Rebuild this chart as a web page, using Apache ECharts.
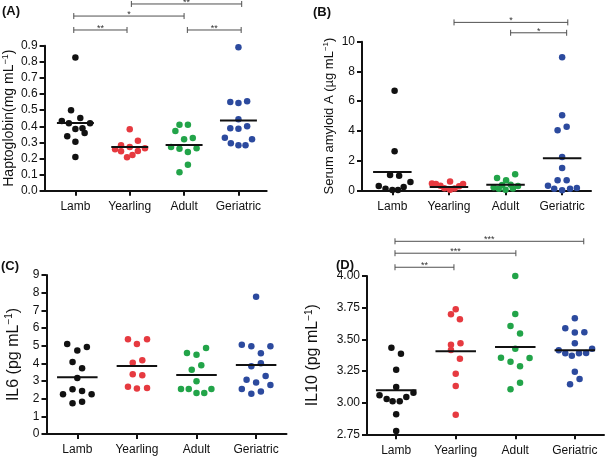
<!DOCTYPE html>
<html>
<head>
<meta charset="utf-8">
<script src="https://cdn.jsdelivr.net/npm/echarts@6/dist/echarts.min.js"></script>
<style>
  html, body { margin: 0; padding: 0; background: #fff; }
  #chart { width: 606px; height: 458px; }
</style>
</head>
<body>
<div id="chart"></div>
<script>
const categories = ['Lamb', 'Yearling', 'Adult', 'Geriatric'];

// each point: [jitter offset from group centre, value]
const hapLamb = [[0, 0.826], [-0.08, 0.499], [-0.25, 0.433], [0.09, 0.451], [-0.12, 0.418], [0.27, 0.418], [0, 0.383], [0.13, 0.387], [0.17, 0.358], [-0.15, 0.338], [0, 0.304], [0, 0.209]];
const hapYearling = [[0, 0.381], [0.15, 0.31], [-0.16, 0.282], [0, 0.271], [-0.27, 0.257], [-0.16, 0.245], [0.15, 0.246], [0.28, 0.263], [0.05, 0.222], [-0.05, 0.207]];
const hapAdult = [[-0.085, 0.41], [0.07, 0.41], [-0.16, 0.371], [0, 0.319], [0.16, 0.327], [-0.24, 0.271], [-0.085, 0.261], [0.23, 0.263], [0.07, 0.24], [0.07, 0.161], [-0.085, 0.114]];
const hapGeriatric = [[0, 0.89], [-0.15, 0.551], [0, 0.544], [0.16, 0.555], [0, 0.443], [-0.15, 0.387], [0, 0.385], [0.16, 0.4], [-0.25, 0.329], [0.25, 0.319], [-0.14, 0.294], [0, 0.282], [0.13, 0.282]];
const hapMeans = [0.42, 0.271, 0.284, 0.435];
// [from, to, level, stars]
const hapBrackets = [[1.03, 3.06, 1.159, '**'], [-0.03, 2, 1.084, '*'], [-0.03, 0.95, 0.9975, '**'], [2.06, 3.05, 0.9975, '**']];

const saaLamb = [[0.04, 6.7], [0.04, 2.62], [-0.04, 1.03], [0.12, 0.98], [0.32, 0.56], [-0.24, 0.29], [0.2, 0.22], [-0.12, 0.11], [0, 0.02], [0.1, 0.02]];
const saaYearling = [[0.02, 0.6], [-0.3, 0.46], [-0.23, 0.42], [-0.15, 0.3], [-0.08, 0.13], [0.02, 0.04], [0.1, 0.12], [0.18, 0.28], [0.25, 0.42]];
const saaAdult = [[-0.15, 0.83], [0.01, 0.67], [0.17, 1.08], [-0.06, 0.36], [0.09, 0.38], [0.22, 0.29], [-0.21, 0.2], [-0.12, 0.1], [0, 0.03], [0.13, 0.12]];
const saaGeriatric = [[0, 8.95], [0, 5.05], [0.08, 4.28], [-0.08, 4.04], [0, 2.24], [0, 1.5], [-0.08, 0.67], [0.08, 0.67], [-0.25, 0.31], [-0.14, 0.11], [0, 0.0], [0.14, 0.11], [0.26, 0.15]];
const saaMeans = [1.23, 0.22, 0.38, 2.15];
const saaBrackets = [[1.09, 3.1, 11.3, '*'], [2.09, 3.08, 10.6, '*']];

const il6Lamb = [[-0.17, 5.09], [0.16, 4.92], [0, 4.72], [-0.08, 4.07], [0.08, 3.72], [0, 3.17], [-0.08, 2.53], [0.08, 2.43], [-0.24, 2.25], [0.24, 2.25], [-0.08, 1.74], [0.08, 1.83]];
const il6Yearling = [[-0.15, 5.36], [0.17, 5.36], [0, 5.09], [-0.07, 4.04], [0.09, 4.17], [-0.07, 3.38], [0.09, 3.32], [-0.15, 2.68], [0, 2.57], [0.17, 2.6]];
const il6Adult = [[0.16, 4.87], [-0.16, 4.58], [0, 4.49], [0.08, 3.89], [-0.08, 3.64], [0, 2.98], [-0.26, 2.55], [-0.13, 2.55], [0.25, 2.55], [0, 2.32], [0.13, 2.32]];
const il6Geriatric = [[0, 7.77], [-0.24, 5.05], [-0.08, 4.96], [0.24, 4.96], [0.08, 4.57], [-0.08, 3.83], [0.08, 4.0], [0.16, 3.28], [-0.16, 3.07], [0, 2.92], [0.24, 2.77], [-0.24, 2.55], [-0.08, 2.28], [0.08, 2.41]];
const il6Means = [3.21, 3.85, 3.34, 3.9];

const il10Lamb = [[-0.08, 3.434], [0.08, 3.387], [0, 3.26], [0, 3.124], [0.29, 3.079], [-0.28, 3.058], [0.17, 3.045], [-0.16, 3.029], [-0.06, 3.011], [0.06, 3.011], [0, 2.908], [0, 2.776]];
const il10Yearling = [[0, 3.737], [-0.08, 3.698], [0.07, 3.658], [-0.08, 3.458], [0.08, 3.469], [-0.08, 3.416], [0.07, 3.347], [0, 3.229], [0, 3.131], [0, 2.905]];
const il10Adult = [[0, 4.0], [0, 3.7], [-0.08, 3.605], [0.08, 3.545], [0, 3.426], [-0.24, 3.355], [-0.08, 3.323], [0.24, 3.353], [0.08, 3.287], [0.08, 3.158], [-0.08, 3.105]];
const il10Geriatric = [[0, 3.666], [-0.16, 3.587], [0, 3.553], [0.16, 3.556], [0, 3.469], [-0.27, 3.413], [0.29, 3.426], [-0.16, 3.39], [-0.05, 3.371], [0.07, 3.39], [0.19, 3.392], [0, 3.244], [0.08, 3.187], [-0.08, 3.145]];
const il10Means = [3.098, 3.405, 3.44, 3.413];
const il10Brackets = [[-0.02, 0.97, 4.069, '**'], [-0.02, 2.01, 4.18, '***'], [-0.02, 3.15, 4.274, '***']];

const FONT = 'Arial, "Liberation Sans", Helvetica, sans-serif';
const INK = '#111111';
const groupColors = ['#111111', '#e63a40', '#22a449', '#2c4a9e'];

const panels = [
    {
        letter: '(A)', letterPos: [2, 5],
        grid: { left: 43.3, top: 45.7, width: 223.4, height: 145 },
        xRange: [-0.567, 3.52],
        yAxis: { min: 0, max: 0.9, interval: 0.1, digits: 1 },
        name: 'Haptoglobin(mg mL{sup|−1})', nameGap: 25, nameSize: 14,
        groups: [hapLamb, hapYearling, hapAdult, hapGeriatric],
        means: hapMeans, brackets: hapBrackets,
    },
    {
        letter: '(B)', letterPos: [313, 6],
        grid: { left: 362, top: 41.7, width: 229, height: 148.6 },
        xRange: [-0.536, 3.51],
        yAxis: { min: 0, max: 10, interval: 2, digits: 0 },
        name: 'Serum amyloid A (µg mL{sup|−1})', nameGap: 25, nameSize: 13,
        groups: [saaLamb, saaYearling, saaAdult, saaGeriatric],
        means: saaMeans, brackets: saaBrackets,
    },
    {
        letter: '(C)', letterPos: [1, 260],
        grid: { left: 46.5, top: 275, width: 240, height: 159 },
        xRange: [-0.517, 3.51],
        yAxis: { min: 0, max: 9, interval: 1, digits: 0 },
        name: 'IL6 (pg mL{sup|−1})', nameGap: 24, nameSize: 16,
        groups: [il6Lamb, il6Yearling, il6Adult, il6Geriatric],
        means: il6Means, brackets: [],
    },
    {
        letter: '(D)', letterPos: [336, 258.5],
        grid: { left: 367, top: 276, width: 237, height: 158.3 },
        xRange: [-0.49, 3.49],
        yAxis: { min: 2.75, max: 4, interval: 0.25, digits: 2 },
        name: 'IL10 (pg mL{sup|−1})', nameGap: 45, nameSize: 16,
        groups: [il10Lamb, il10Yearling, il10Adult, il10Geriatric],
        means: il10Means, brackets: il10Brackets,
    },
];

function renderMean(params, api) {
    const i = api.value(0);
    const m = api.value(1);
    const a = api.coord([i - 0.34, m]);
    const b = api.coord([i + 0.34, m]);
    return {
        type: 'line',
        shape: { x1: a[0], y1: a[1], x2: b[0], y2: b[1] },
        style: { stroke: INK, lineWidth: 2 },
    };
}

function makeBracketRenderer(brackets) {
    return (params, api) => {
        const y = api.value(2);
        const a = api.coord([api.value(0), y]);
        const b = api.coord([api.value(1), y]);
        const stroke = { stroke: '#505050', lineWidth: 1 };
        return {
            type: 'group',
            children: [
                { type: 'line', shape: { x1: a[0], y1: a[1], x2: b[0], y2: b[1] }, style: stroke },
                { type: 'line', shape: { x1: a[0], y1: a[1] - 3, x2: a[0], y2: a[1] + 3 }, style: stroke },
                { type: 'line', shape: { x1: b[0], y1: b[1] - 3, x2: b[0], y2: b[1] + 3 }, style: stroke },
                {
                    type: 'text',
                    x: (a[0] + b[0]) / 2,
                    y: a[1] + 3,
                    style: {
                        text: brackets[params.dataIndex][3],
                        align: 'center', verticalAlign: 'bottom',
                        fontSize: 9, fontFamily: FONT, fill: '#333',
                    },
                },
            ],
        };
    };
}

const option = {
    animation: false,
    backgroundColor: '#fff',
    grid: [],
    xAxis: [],
    yAxis: [],
    series: [],
    graphic: [],
};

panels.forEach((p, k) => {
    option.grid.push({ ...p.grid });

    option.xAxis.push({
        type: 'value',
        gridIndex: k,
        min: p.xRange[0],
        max: p.xRange[1],
        axisLine: { show: true, onZero: false, lineStyle: { color: INK, width: 2 } },
        axisTick: { show: true, customValues: [0, 1, 2, 3], length: 5, lineStyle: { color: INK, width: 2 } },
        axisLabel: {
            customValues: [0, 1, 2, 3],
            formatter: (v) => categories[Math.round(v)],
            color: INK, fontSize: 12, fontFamily: FONT, margin: 10,
        },
        splitLine: { show: false },
    });

    option.yAxis.push({
        type: 'value',
        gridIndex: k,
        min: p.yAxis.min,
        max: p.yAxis.max,
        interval: p.yAxis.interval,
        axisLine: { show: true, onZero: false, lineStyle: { color: INK, width: 2 } },
        axisTick: { show: true, length: 5, lineStyle: { color: INK, width: 2 } },
        axisLabel: {
            formatter: (v) => v.toFixed(p.yAxis.digits),
            color: INK, fontSize: 12, fontFamily: FONT, margin: 7,
        },
        splitLine: { show: false },
        name: p.name,
        nameLocation: 'middle',
        nameRotate: 90,
        nameGap: p.nameGap,
        nameTextStyle: {
            color: INK, fontSize: p.nameSize, fontFamily: FONT, lineHeight: p.nameSize + 2,
            rich: {
                sup: {
                    fontSize: Math.round(p.nameSize * 0.65), fontFamily: FONT, color: INK,
                    lineHeight: Math.round(p.nameSize * 0.7), verticalAlign: 'top',
                },
            },
        },
    });

    p.groups.forEach((g, i) => {
        option.series.push({
            type: 'scatter',
            xAxisIndex: k,
            yAxisIndex: k,
            symbolSize: 6.5,
            silent: true,
            itemStyle: { color: groupColors[i], opacity: 1 },
            data: g.map((d) => [i + d[0], d[1]]),
        });
    });

    option.series.push({
        type: 'custom',
        xAxisIndex: k,
        yAxisIndex: k,
        silent: true,
        renderItem: renderMean,
        encode: { x: 0, y: 1 },
        data: p.means.map((m, i) => [i, m]),
        z: 5,
    });

    if (p.brackets.length) {
        option.series.push({
            type: 'custom',
            xAxisIndex: k,
            yAxisIndex: k,
            silent: true,
            clip: false,
            renderItem: makeBracketRenderer(p.brackets),
            encode: { x: [0, 1], y: 2 },
            data: p.brackets.map((b) => [b[0], b[1], b[2]]),
        });
    }

    option.graphic.push({
        type: 'text',
        left: p.letterPos[0],
        top: p.letterPos[1],
        style: { text: p.letter, font: 'bold 13px ' + FONT, fill: INK },
    });
});

const chart = echarts.init(document.getElementById('chart'), null, { renderer: 'canvas' });
chart.setOption(option);
</script>
</body>
</html>
